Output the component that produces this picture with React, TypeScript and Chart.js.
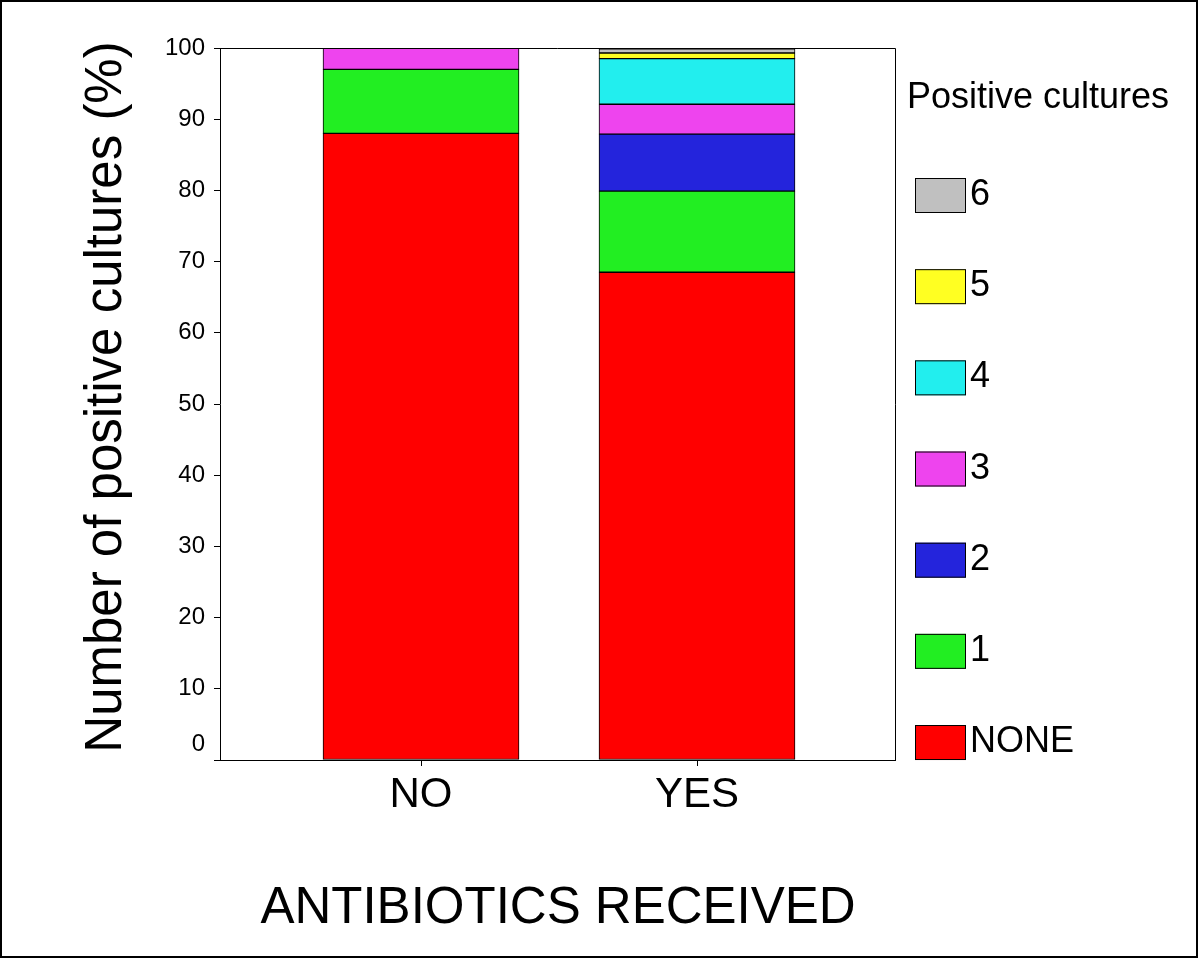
import React, { useEffect, useRef } from "react";
import { Chart, registerables } from "chart.js";

Chart.register(...registerables);

// ---- data ----
const categories = ["NO", "YES"];
const seriesNames = ["NONE", "1", "2", "3", "4", "5", "6"];
const valuesNone = [88, 68.5];
const values1 = [9, 11.4];
const values2 = [0, 8.0];
const values3 = [3, 4.2];
const values4 = [0, 6.4];
const values5 = [0, 0.8];
const values6 = [0, 0.6];
const seriesValues = [valuesNone, values1, values2, values3, values4, values5, values6];
const seriesColors = ["#ff0000", "#22ee22", "#2424dc", "#ee44ee", "#22eeee", "#ffff22", "#c0c0c0"];
const yTickStep = 10;
const yMin = 0;
const yMax = 100;
const yTitle = "Number of positive cultures (%)";
const xTitle = "ANTIBIOTICS RECEIVED";
const legendTitle = "Positive cultures";

const FONT = "'Liberation Sans', Arial, Helvetica, sans-serif";

const decorPlugin = {
  id: "decor",
  beforeDraw(chart: any) {
    const ctx = chart.ctx;
    ctx.save();
    ctx.fillStyle = "#ffffff";
    ctx.fillRect(0, 0, chart.width, chart.height);
    ctx.restore();
  },
  afterDraw(chart: any) {
    const ctx = chart.ctx;
    const { left, right, top, bottom } = chart.chartArea;
    ctx.save();
    ctx.strokeStyle = "#000";
    ctx.lineWidth = 1;
    // frame top + right
    ctx.beginPath();
    ctx.moveTo(left, top + 0.5);
    ctx.lineTo(right + 0.5, top + 0.5);
    ctx.lineTo(right + 0.5, bottom);
    ctx.stroke();
    // outer border
    ctx.lineWidth = 2;
    ctx.strokeRect(1, 1, 1196, 956);

    ctx.fillStyle = "#000";
    // zero tick label, raised above the axis as in the original
    const yScale = chart.scales.y;
    ctx.font = `24px ${FONT}`;
    ctx.textAlign = "right";
    ctx.textBaseline = "middle";
    ctx.fillText(String(yMin), left - 15, yScale.getPixelForValue(yMin) - 16);

    // x title
    ctx.font = `51px ${FONT}`;
    ctx.textAlign = "center";
    ctx.textBaseline = "alphabetic";
    ctx.fillText(xTitle, 558, 923);
    // y title
    ctx.save();
    ctx.translate(121, 397);
    ctx.rotate(-Math.PI / 2);
    ctx.fillText(yTitle, 0, 0);
    ctx.restore();

    // legend
    ctx.textAlign = "left";
    ctx.font = `36px ${FONT}`;
    ctx.fillText(legendTitle, 907, 108);
    const ds = chart.data.datasets;
    const n = ds.length;
    for (let k = 0; k < n; k++) {
      const d = ds[n - 1 - k];
      const y = 178 + k * 91.17;
      ctx.fillStyle = d.backgroundColor;
      ctx.fillRect(915, y, 51, 35);
      ctx.strokeStyle = "#000";
      ctx.lineWidth = 1;
      ctx.strokeRect(915.5, y + 0.5, 50, 34);
      ctx.fillStyle = "#000";
      ctx.fillText(d.label, 970, y + 27);
    }
    ctx.restore();
  },
};

export default function App() {
  const ref = useRef<HTMLCanvasElement | null>(null);

  useEffect(() => {
    if (!ref.current) return;
    const chart = new Chart(ref.current, {
      type: "bar",
      data: {
        datasets: seriesNames.map((name, s) => ({
          label: name,
          data: categories.map((_, i) => ({ x: i, y: seriesValues[s][i] })),
          backgroundColor: seriesColors[s],
          borderColor: "#000000",
          borderWidth: 1,
          borderSkipped: false,
          barThickness: 196,
        })),
      },
      options: {
        animation: false,
        responsive: false,
        devicePixelRatio: 1,
        layout: { padding: { left: 0, top: 48, right: 305, bottom: 0 } },
        plugins: {
          legend: { display: false },
          tooltip: { enabled: false },
          title: { display: false },
        },
        scales: {
          x: {
            type: "linear",
            stacked: true,
            offset: false,
            min: -0.7283,
            max: 1.7174,
            afterBuildTicks: (scale: any) => {
              scale.ticks = categories.map((_, i) => ({ value: i }));
            },
            afterFit: (scale: any) => {
              scale.height = 200;
            },
            ticks: {
              autoSkip: false,
              maxRotation: 0,
              color: "#000",
              font: { size: 42, family: FONT },
              padding: 4,
              callback: (v: any) => categories[Math.round(Number(v))] ?? "",
            },
            grid: {
              display: true,
              drawOnChartArea: false,
              offset: false,
              tickLength: 6,
              color: "#000",
            },
            border: { display: true, color: "#000", width: 1 },
          },
          y: {
            type: "linear",
            stacked: true,
            min: yMin,
            max: yMax,
            afterFit: (scale: any) => {
              scale.width = 220;
            },
            ticks: {
              stepSize: yTickStep,
              color: "#000",
              font: { size: 24, family: FONT },
              padding: 9,
              callback: (v: any) => (Number(v) === yMin ? "" : String(v)),
            },
            grid: {
              display: true,
              drawOnChartArea: false,
              tickLength: 6,
              color: "#000",
            },
            border: { display: true, color: "#000", width: 1 },
          },
        },
      },
      plugins: [decorPlugin],
    });
    return () => chart.destroy();
  }, []);

  return (
    <div style={{ position: "fixed", left: 0, top: 0, width: 1200, height: 960 }}>
      <canvas ref={ref} width={1200} height={960} style={{ display: "block" }} />
    </div>
  );
}
